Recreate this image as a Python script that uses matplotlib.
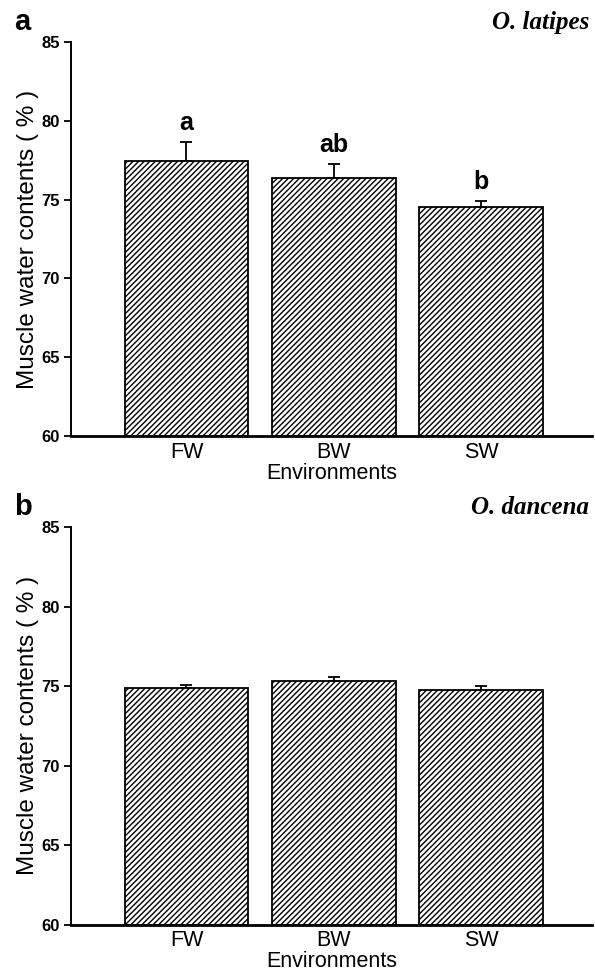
import numpy as np
import matplotlib.pyplot as plt

# datos
env = ['FW', 'BW', 'SW']
latipes = [77.45, 76.4, 74.5]
latipes_err = [1.2, 0.85, 0.4]
latipes_sig = ['a', 'ab', 'b']
dancena = [74.9, 75.3, 74.75]
dancena_err = [0.2, 0.3, 0.25]

plt.rcParams['font.family'] = ['Liberation Sans', 'DejaVu Sans']
plt.rcParams['hatch.linewidth'] = 1.0

fig = plt.figure(figsize=(5.95, 9.74), dpi=100)
ax1 = fig.add_axes([0.1193, 0.5524, 0.8757, 0.4045])
ax2 = fig.add_axes([0.1193, 0.0505, 0.8757, 0.4084])

x = np.arange(len(env))


def panel(ax, vals, errs, letter, species, sig=None):
    ax.bar(x, np.array(vals) - 60, bottom=60, width=0.84, color='white',
           edgecolor='black', linewidth=1.3, hatch='//////', zorder=2)
    ax.errorbar(x, vals, yerr=[np.zeros(len(vals)), errs], fmt='none',
                ecolor='black', elinewidth=1.3, capsize=4, capthick=1.3, zorder=3)
    if sig:
        for xi, v, e, s in zip(x, vals, errs, sig):
            ax.text(xi, v + e + 0.45, s, ha='center', va='bottom',
                    fontsize=18, fontweight='bold')
    ax.set_xlim(-0.784, 2.754)
    ax.set_ylim(60, 85)
    ax.set_yticks([60, 65, 70, 75, 80, 85])
    ax.set_xticks(x)
    ax.set_xticklabels(env, fontsize=15.5)
    ax.tick_params(axis='x', length=0, pad=4)
    ax.tick_params(axis='y', length=5, width=1.3, labelsize=12, pad=3)
    for lab in ax.get_yticklabels():
        lab.set_fontweight('bold')
    ax.spines['top'].set_visible(False)
    ax.spines['right'].set_visible(False)
    ax.spines['left'].set_linewidth(1.4)
    ax.spines['bottom'].set_linewidth(2.0)
    ax.set_xlabel('Environments', fontsize=15.5, labelpad=0)
    ax.set_ylabel('Muscle water contents ( % )', fontsize=17.5, labelpad=2)
    ax.text(-0.11, 1.05, letter, transform=ax.transAxes, fontsize=21,
            fontweight='bold', va='center', ha='left')
    ax.text(0.995, 1.05, species, transform=ax.transAxes, fontsize=18,
            fontweight='bold', fontstyle='italic', family='Liberation Serif',
            va='center', ha='right')


panel(ax1, latipes, latipes_err, 'a', 'O. latipes', latipes_sig)
panel(ax2, dancena, dancena_err, 'b', 'O. dancena')

fig.savefig('out.png', dpi=100)
